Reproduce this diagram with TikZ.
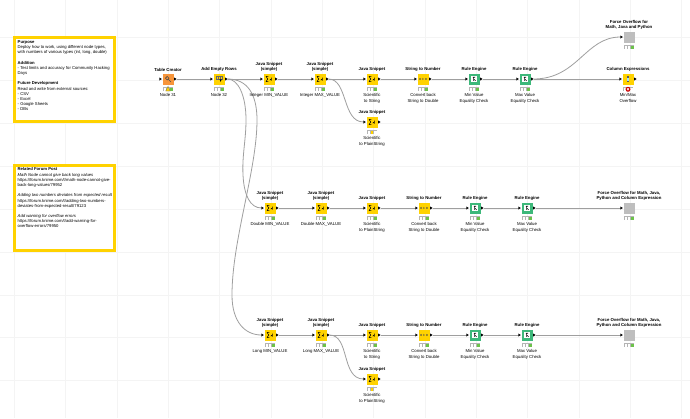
\documentclass[tikz,border=0pt]{standalone}
\usepackage{fontspec}
\setmainfont{Liberation Sans}
\usetikzlibrary{backgrounds}
\definecolor{knyellow}{HTML}{FFD200}
\definecolor{knorange}{HTML}{F7953B}
\definecolor{kngreen}{HTML}{3DB87A}
\definecolor{kngray}{HTML}{BEBEBE}
\definecolor{knlight}{HTML}{B4B4B4}
\definecolor{knok}{HTML}{6CC24A}
\tikzset{
  body/.style={minimum size=11pt,inner sep=0pt,outer sep=3pt},
  toplabel/.style={align=center,inner sep=0pt,font=\fontsize{4.3}{5.3}\selectfont\bfseries},
  lowlabel/.style={align=center,inner sep=0pt,font=\fontsize{4.3}{5.3}\selectfont},
  wire/.style={draw=gray!75,line width=.8pt},
  gridline/.style={draw=gray!9,line width=.4pt},
  notebox/.style={draw=knyellow,line width=3pt,fill=white,minimum width=100pt,minimum height=84pt},
  notetext/.style={align=left,inner sep=0pt,anchor=north west,font=\fontsize{4.2}{5.18}\selectfont},
  pics/inport/.style={code={\fill (-8.6,-1.5) -- (-6.2,0) -- (-8.6,1.5) -- cycle;}},
  pics/outport/.style={code={\fill (6.2,-1.5) -- (8.6,0) -- (6.2,1.5) -- cycle;}},
  pics/lights/.style={code={
    \fill[knlight] (-5.2,8.2) rectangle (5.2,12.4);
    \foreach \i in {-4.5,-1.3} \fill[white] (\i,8.9) rectangle (\i+2.6,11.7);
    \fill[#1] (1.9,8.9) rectangle (4.5,11.7);}},
  pics/warnlights/.style={code={
    \pic {lights=knok};
    \fill[knyellow,draw=black!60,line width=.2pt] (0,7.4) -- (2.3,12) -- (-2.3,12) -- cycle;}},
  pics/midlights/.style={code={
    \pic {lights=white};
    \fill[knyellow] (-1.3,8.9) rectangle (1.3,11.7);}},
  pics/errlights/.style={code={
    \pic {lights=white};
    \fill[red!80!black] (0,10.3) circle (2.5);
    \draw[white,line width=.5pt] (-1,9.3) -- (1,11.3) (-1,11.3) -- (1,9.3);}},
  pics/javaicon/.style={code={
    \draw[line width=.5pt,line join=round] (-.6,-2.6) -- (-3,-2.6) -- (-1.2,0) -- (-3,2.6) -- (-.6,2.6);
    \draw[line width=.5pt] (2.4,-1.4) -- (2.4,1.2) arc (0:-180:.8 and .9);}},
  pics/tableicon/.style={code={
    \draw[black!70,line width=.6pt] (-.8,-.8) circle (1.8) (.6,.6) -- (2.8,2.8);}},
  pics/rowsicon/.style={code={
    \draw[black!60,line width=.3pt] (-3,-3) rectangle (3,0) (-1,-3) -- (-1,0) (1,-3) -- (1,0);
    \fill (.5,.4) -- (2.7,.4) -- (1.6,2.8) -- cycle;}},
  pics/numicon/.style={code={
    \draw[black!70,line width=.3pt] (-2.8,0) circle (.8) (2.8,0) circle (.8) (-.7,-.9) -- (.5,0) -- (-.7,.9);}},
  pics/ruleicon/.style={code={
    \fill[white] (-3.2,-3.2) rectangle (3.2,3.2);
    \draw[black,line width=.6pt] (-1.2,-1.8) -- (1,-1.8) (-.4,-1.8) -- (-.4,1.8) (-.4,0) -- (1.6,1.8);}},
  pics/expricon/.style={code={
    \fill[black!65] (-1.1,-3) rectangle (1.1,3);
    \fill[cyan!35] (-.6,-.6) rectangle (.6,2.4);}},
  pics/noicon/.style={code={}},
}
\newcommand{\kbase}[7]{
  \begin{scope}[shift={(#2)}]
    \node[body,fill=#3] (#1) at (0,0) {};
    \pic {#4};
    \pic {inport};
    \pic {#7};
    \node[toplabel,anchor=south] (#1top) at (0,-7.6) {#5};
    \node[lowlabel,anchor=north] (#1low) at (0,14.5) {#6};
  \end{scope}
}
\newcommand{\knode}[7]{
  \kbase{#1}{#2}{#3}{#4}{#5}{#6}{#7}
  \pic at (#1.center) {outport};
}
\begin{document}
\begin{tikzpicture}[x=1pt,y=-1pt]
  \useasboundingbox (0,0) rectangle (690,418);
  % nodes, first row
  \knode{tc}{168,79}{knorange}{tableicon}{Table Creator}{Node 31}{warnlights}
  \knode{aer}{219,79}{knyellow}{rowsicon}{Add Empty Rows}{Node 32}{lights=knok}
  \knode{imin}{269,79}{knyellow}{javaicon}{Java Snippet\\(simple)}{Integer MIN\_VALUE}{lights=knok}
  \knode{imax}{320,79}{knyellow}{javaicon}{Java Snippet\\(simple)}{Integer MAX\_VALUE}{lights=knok}
  \knode{ista}{372,79}{knyellow}{javaicon}{Java Snippet}{Scientific\\to String}{lights=knok}
  \knode{iplain}{372,122}{knyellow}{javaicon}{Java Snippet}{Scientific\\to PlainString}{midlights}
  \knode{inum}{423,79}{knyellow}{numicon}{String to Number}{Convert back\\String to Double}{lights=knok}
  \knode{irmin}{474,79}{kngreen}{ruleicon}{Rule Engine}{Min Value\\Equality Check}{lights=knok}
  \knode{irmax}{525,79}{kngreen}{ruleicon}{Rule Engine}{Max Value\\Equality Check}{lights=knok}
  \knode{iexpr}{628,79}{knyellow}{expricon}{Column Expressions}{Min/Max\\Overflow}{errlights}
  \kbase{iforce}{629,37}{kngray}{noicon}{Force Overflow for\\Math, Java and Python}{}{lights=knok}
  % second row
  \knode{dmin}{270,208}{knyellow}{javaicon}{Java Snippet\\(simple)}{Double MIN\_VALUE}{lights=knok}
  \knode{dmax}{321,208}{knyellow}{javaicon}{Java Snippet\\(simple)}{Double MAX\_VALUE}{lights=knok}
  \knode{dplain}{372,208}{knyellow}{javaicon}{Java Snippet}{Scientific\\to PlainString}{lights=knok}
  \knode{dnum}{424,208}{knyellow}{numicon}{String to Number}{Convert back\\String to Double}{lights=knok}
  \knode{drmin}{475,208}{kngreen}{ruleicon}{Rule Engine}{Min Value\\Equality Check}{lights=knok}
  \knode{drmax}{527,208}{kngreen}{ruleicon}{Rule Engine}{Max Value\\Equality Check}{lights=knok}
  \kbase{dforce}{629,208}{kngray}{noicon}{Force Overflow for Math, Java,\\Python and Column Expression}{}{lights=knok}
  % third row
  \knode{lmin}{270,335}{knyellow}{javaicon}{Java Snippet\\(simple)}{Long MIN\_VALUE}{lights=knok}
  \knode{lmax}{321,335}{knyellow}{javaicon}{Java Snippet\\(simple)}{Long MAX\_VALUE}{lights=knok}
  \knode{lsta}{372,335}{knyellow}{javaicon}{Java Snippet}{Scientific\\to String}{lights=knok}
  \knode{lplain}{372,379}{knyellow}{javaicon}{Java Snippet}{Scientific\\to PlainString}{midlights}
  \knode{lnum}{424,335}{knyellow}{numicon}{String to Number}{Convert back\\String to Double}{lights=knok}
  \knode{lrmin}{475,335}{kngreen}{ruleicon}{Rule Engine}{Min Value\\Equality Check}{lights=knok}
  \knode{lrmax}{527,335}{kngreen}{ruleicon}{Rule Engine}{Max Value\\Equality Check}{lights=knok}
  \kbase{lforce}{629,335}{kngray}{noicon}{Force Overflow for Math, Java,\\Python and Column Expression}{}{lights=knok}
  % notes
  \node[notebox] (purposebox) at (64.5,79.5) {};
  \node[notetext] (purpose) at (17.5,40.4) {\textbf{Purpose}\\Deploy how to work, using different node types,\\with numbers of various types (int, long, double)\\~\\\textbf{Addition}\\- Test limits and accuracy for Community Hacking\\Days\\~\\\textbf{Future Development}\\Read and  write from external sources:\\- CSV\\- Excel\\- Google Sheets\\- DBs};
  \node[notebox,minimum height=85pt] (forumbox) at (64.5,207.5) {};
  \node[notetext] (forum) at (17.5,167.7) {\textbf{Related Forum Post}\\\textit{Math Node cannot give back long values}\\https://forum.knime.com/t/math-node-cannot-give-\\back-long-values/79952\\~\\\textit{Adding two numbers deviates from expected result}\\https://forum.knime.com/t/adding-two-numbers-\\deviates-from-expected-result/79123\\~\\\textit{Add warning for overflow errors}\\https://forum.knime.com/t/add-warning-for-\\overflow-errors/79950};
  % grid and connectors stay behind the nodes
  \begin{scope}[on background layer]
    \fill[white] (0,0) rectangle (690,418);
    \foreach \gx in {0,...,13} \draw[gridline] (14+51.35*\gx,0) -- (14+51.35*\gx,418);
    \foreach \gy in {0,...,8} \draw[gridline] (0,37+42.95*\gy) -- (690,37+42.95*\gy);
    \foreach \a/\b in {tc/aer,aer/imin,imin/imax,imax/ista,ista/inum,inum/irmin,irmin/irmax,irmax/iexpr,
      dmin/dmax,dmax/dplain,dplain/dnum,dnum/drmin,drmin/drmax,drmax/dforce,
      lmin/lmax,lmax/lsta,lsta/lnum,lnum/lrmin,lrmin/lrmax,lrmax/lforce}
      \draw[wire] (\a) -- (\b);
    \draw[wire] (imax.east) .. controls (348,79) and (342,122) .. (iplain.west);
    \draw[wire] (irmax.east) .. controls (578,79) and (585,37) .. (iforce.west);
    \draw[wire] (lmax.east) .. controls (350,335) and (341,379) .. (lplain.west);
    \draw[wire] (aer.east) .. controls (238,79) and (246,95) .. (246,120)
      .. controls (246,140) and (242,155) .. (243,175)
      .. controls (244,195) and (250,208) .. (dmin.west);
    \draw[wire] (aer.east) .. controls (248,79) and (257,95) .. (257,120)
      .. controls (257,170) and (232,240) .. (232,295)
      .. controls (232,322) and (245,335) .. (lmin.west);
  \end{scope}
\end{tikzpicture}
\end{document}
